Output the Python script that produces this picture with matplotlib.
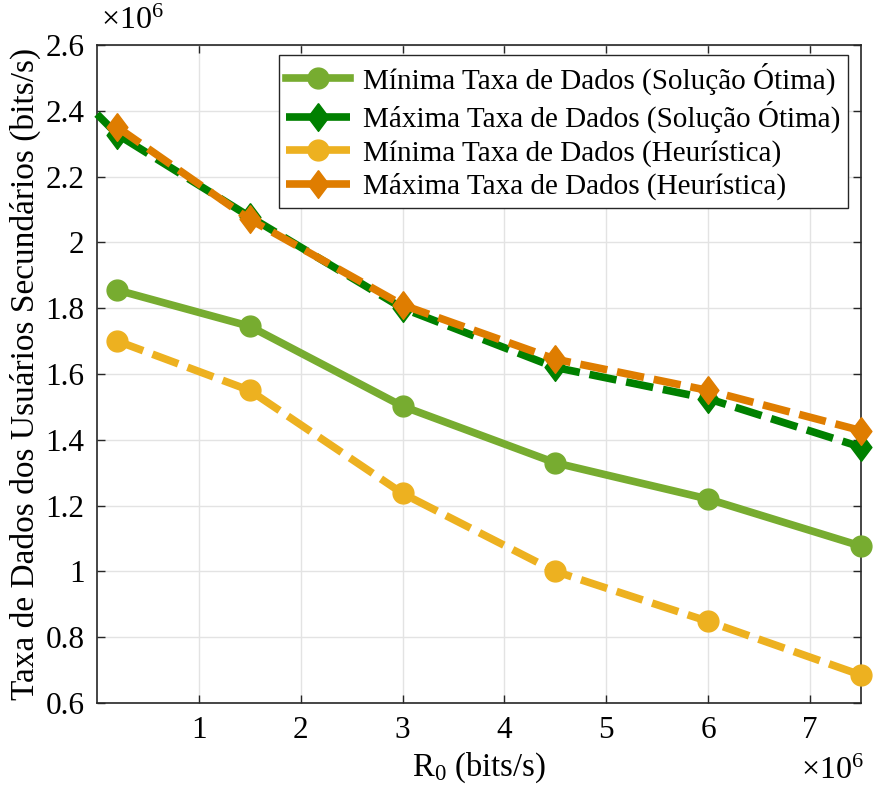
import matplotlib
matplotlib.use("Agg")
import matplotlib.pyplot as plt
import numpy as np

plt.rcParams['font.family'] = ['Liberation Serif', 'DejaVu Serif']
plt.rcParams['mathtext.fontset'] = 'custom'
plt.rcParams['mathtext.rm'] = 'Liberation Serif'
plt.rcParams['mathtext.it'] = 'Liberation Serif:italic'

# Data (values in units of 1e6)
x_main = [0.2, 1.5, 3.0, 4.5, 6.0, 7.5]
x_maxopt = [0.0, 0.2, 1.5, 3.0, 4.5, 6.0, 7.5]
min_opt = [1.855, 1.745, 1.502, 1.330, 1.220, 1.077]
max_opt = [2.39, 2.328, 2.078, 1.800, 1.620, 1.525, 1.378]
min_heu = [1.700, 1.550, 1.237, 1.000, 0.848, 0.685]
max_heu = [2.350, 2.070, 1.810, 1.645, 1.550, 1.428]

labels = ['Mínima Taxa de Dados (Solução Ótima)',
          'Máxima Taxa de Dados (Solução Ótima)',
          'Mínima Taxa de Dados (Heurística)',
          'Máxima Taxa de Dados (Heurística)']

xticks = [1, 2, 3, 4, 5, 6, 7]
yticks = [0.6, 0.8, 1.0, 1.2, 1.4, 1.6, 1.8, 2.0, 2.2, 2.4, 2.6]
ytick_labels = ['0.6', '0.8', '1', '1.2', '1.4', '1.6', '1.8', '2', '2.2', '2.4', '2.6']

c_lgreen = '#77AC30'
c_dgreen = '#008000'
c_yellow = '#EDB120'
c_orange = '#DF7D00'

diamond = [(0, 1), (0.75, 0), (0, -1), (-0.75, 0), (0, 1)]

fig = plt.figure(figsize=(8.74, 7.94), dpi=100)
ax = fig.add_axes([0.111, 0.1146, 0.874, 0.8287])

lw = 5.5
dash = (3.6, 1.3)
ax.plot(x_main, min_opt, '-', color=c_lgreen, lw=lw, marker='o', ms=15, label=labels[0], zorder=3, clip_on=False)
ax.plot(x_maxopt, max_opt, '--', color=c_dgreen, lw=lw, marker=diamond, ms=20, dashes=dash,
        markevery=list(range(1, len(x_maxopt))), label=labels[1], zorder=3, clip_on=False)
ax.plot(x_main, min_heu, '--', color=c_yellow, lw=lw, marker='o', ms=15, dashes=dash, label=labels[2], zorder=3, clip_on=False)
ax.plot(x_main, max_heu, '--', color=c_orange, lw=lw, marker=diamond, ms=20, dashes=dash, label=labels[3], zorder=4, clip_on=False)

ax.set_xlim(0, 7.5)
ax.set_ylim(0.6, 2.6)
ax.set_xticks(xticks)
ax.set_xticklabels([str(t) for t in xticks])
ax.set_yticks(yticks)
ax.set_yticklabels(ytick_labels)
ax.tick_params(direction='in', labelsize=22.5, top=True, right=True, length=6, width=1, color='#262626', pad=9)
ax.grid(True, color='#e3e3e3', lw=1)
ax.set_axisbelow(True)
for s in ax.spines.values():
    s.set_color('#262626')
    s.set_linewidth(1.2)
    s.set_zorder(2.5)

ax.set_xlabel('R$_0$ (bits/s)', fontsize=23.5, labelpad=4)
ax.set_ylabel('Taxa de Dados dos Usuários Secundários (bits/s)', fontsize=24, labelpad=3)

fig.text(0.116, 0.955, r'$\times10^6$', fontsize=23, ha='left', va='bottom')
fig.text(0.988, 0.010, r'$\times10^6$', fontsize=23, ha='right', va='bottom')

leg = ax.legend(loc='upper right', fontsize=21, frameon=True, fancybox=False,
                edgecolor='#262626', framealpha=1, handlelength=2.2,
                borderpad=0.25, labelspacing=0.22, handletextpad=0.45,
                borderaxespad=0.0, bbox_to_anchor=(0.983, 0.985))
leg.get_frame().set_linewidth(1.0)
leg.set_zorder(5)

fig.savefig('out.png', dpi=100)
